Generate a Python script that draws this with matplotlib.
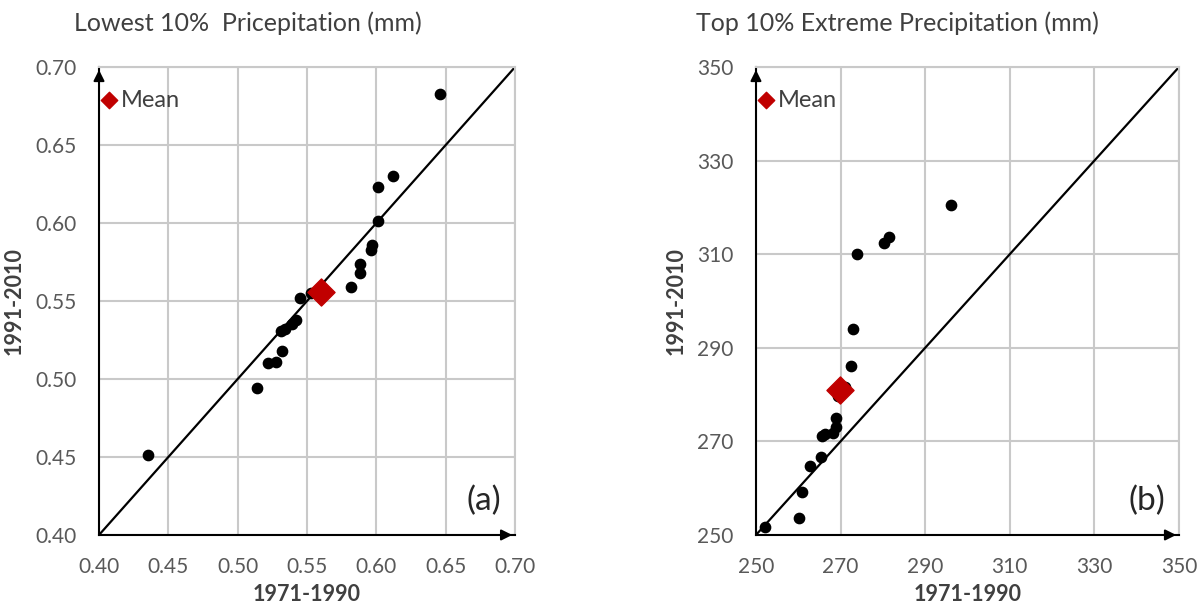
import matplotlib.pyplot as plt

plt.rcParams["font.family"] = ["Lato", "DejaVu Sans"]

# station values, 1971-1990 vs 1991-2010
low_hist = [0.646, 0.612, 0.601, 0.601, 0.597, 0.596, 0.588, 0.588, 0.582, 0.553,
            0.545, 0.542, 0.539, 0.534, 0.531, 0.532, 0.528, 0.522, 0.514, 0.435]
low_recent = [0.683, 0.630, 0.623, 0.601, 0.586, 0.583, 0.574, 0.568, 0.559, 0.555,
              0.552, 0.538, 0.535, 0.532, 0.531, 0.518, 0.511, 0.510, 0.494, 0.451]
low_mean = (0.560, 0.556)
low_ticks = [0.40, 0.45, 0.50, 0.55, 0.60, 0.65, 0.70]

top_hist = [296.2, 281.5, 280.3, 273.9, 272.9, 272.5, 271.0, 269.3, 268.9, 268.9,
            268.1, 266.3, 265.7, 265.3, 262.8, 260.8, 260.2, 252.1]
top_recent = [320.6, 313.7, 312.4, 310.1, 294.0, 286.1, 281.7, 279.6, 275.1, 273.1,
              271.8, 271.6, 271.1, 266.7, 264.8, 259.2, 253.6, 251.8]
top_mean = (269.8, 280.9)
top_ticks = [250, 270, 290, 310, 330, 350]

GRID = "#c9c9c9"
TEXT = "#595959"
RED = "#c00000"


def panel(ax, xs, ys, mean, ticks, fmt, tag):
    lo, hi = ticks[0], ticks[-1]
    ax.set_xlim(lo, hi)
    ax.set_ylim(lo, hi)
    ax.set_xticks(ticks, [fmt.format(t) for t in ticks])
    ax.set_yticks(ticks, [fmt.format(t) for t in ticks])
    ax.grid(True, color=GRID, linewidth=1.5)
    ax.set_axisbelow(True)
    ax.tick_params(length=0, labelsize=15, labelcolor=TEXT, pad=16)
    ax.tick_params(axis="y", pad=16)
    for side in ("top", "right"):
        ax.spines[side].set_color(GRID)
        ax.spines[side].set_linewidth(1.5)
    for side in ("left", "bottom"):
        ax.spines[side].set_color("black")
        ax.spines[side].set_linewidth(1.5)
    ax.plot([lo, hi], [lo, hi], color="black", linewidth=1.6, zorder=2)
    ax.scatter(xs, ys, s=55, color="black", zorder=3)
    ax.scatter([mean[0]], [mean[1]], s=190, marker="D", color=RED, zorder=4)
    ax.annotate("", xy=(1.0, 0), xytext=(0.97, 0), xycoords="axes fraction",
                arrowprops=dict(arrowstyle="-|>", color="black", lw=1.5,
                                mutation_scale=16), annotation_clip=False)
    ax.annotate("", xy=(0, 1.0), xytext=(0, 0.97), xycoords="axes fraction",
                arrowprops=dict(arrowstyle="-|>", color="black", lw=1.5,
                                mutation_scale=16), annotation_clip=False)
    # legend entry for the mean marker
    ax.scatter([0.024], [0.929], s=70, marker="D", color=RED, transform=ax.transAxes,
               clip_on=False, zorder=5)
    ax.text(0.052, 0.929, "Mean", transform=ax.transAxes, fontsize=17,
            color="#404040", ha="left", va="center")
    ax.text(0.925, 0.072, tag, transform=ax.transAxes, fontsize=24,
            color="#262626", ha="center", va="center")
    ax.set_xlabel("1971-1990", fontsize=15.5, fontweight="bold", color="#404040",
                  labelpad=5)
    ax.set_ylabel("1991-2010", fontsize=15.5, fontweight="bold", color="#404040",
                  labelpad=8)


fig = plt.figure(figsize=(12.03, 6.10), dpi=100)
ax1 = fig.add_axes([0.0823, 0.123, 0.3458, 0.767])
ax2 = fig.add_axes([0.6284, 0.123, 0.3516, 0.767])

panel(ax1, low_hist, low_recent, low_mean, low_ticks, "{:.2f}", "(a)")
panel(ax2, top_hist, top_recent, top_mean, top_ticks, "{:.0f}", "(b)")

fig.text(248 / 1203, 1 - 23 / 610, "Lowest 10%  Pricepitation (mm)", fontsize=18,
         color="#404040", ha="center", va="center")
fig.text(897 / 1203, 1 - 23 / 610, "Top 10% Extreme Precipitation (mm)", fontsize=18,
         color="#404040", ha="center", va="center")

fig.savefig("out.png", dpi=100)
